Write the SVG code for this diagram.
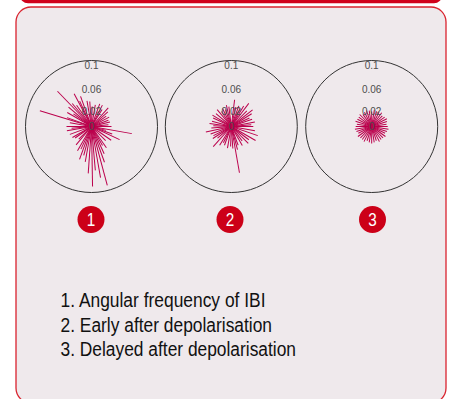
<svg xmlns="http://www.w3.org/2000/svg" width="452" height="399" viewBox="0 0 452 399">
<style>
.ring{fill:none;stroke:#333;stroke-width:1}
.ax{font-family:"Liberation Sans",Arial,sans-serif;font-size:10px;fill:#4d4d4d;text-anchor:middle}
.rays line{stroke:#bb004c;stroke-width:1}
.badge{fill:#cc0018}
.bnum{font-family:"Liberation Sans",Arial,sans-serif;font-size:18px;fill:#fff;text-anchor:middle}
.leg{font-family:"Liberation Sans",Arial,sans-serif;font-size:19.5px;fill:#111}
</style>
<rect x="0" y="0" width="452" height="399" fill="#fff"/>
<rect x="20" y="-12" width="422" height="15.3" rx="8" fill="#d0021b"/>
<rect x="16" y="7" width="430" height="396" rx="15" fill="#efe9ec" stroke="#d9232e" stroke-width="1.3"/>

<g id="plot1">
<circle class="ring" cx="91.5" cy="126.5" r="66"/>
<g class="rays" transform="translate(91.5,126.5)">
<line x2="20" transform="rotate(0)"/><line x2="41" transform="rotate(10)"/><line x2="15" transform="rotate(15)"/>
<line x2="22" transform="rotate(20)"/><line x2="31" transform="rotate(25)"/><line x2="24" transform="rotate(35)"/>
<line x2="20" transform="rotate(45)"/><line x2="26" transform="rotate(55)"/>
<line x2="22" transform="rotate(60)"/><line x2="30" transform="rotate(65)"/><line x2="38" transform="rotate(70)"/><line x2="61" transform="rotate(75)"/>
<line x2="52" transform="rotate(80)"/><line x2="44" transform="rotate(85)"/><line x2="60" transform="rotate(89)"/><line x2="47" transform="rotate(94)"/>
<line x2="36" transform="rotate(100)"/><line x2="30" transform="rotate(105)"/><line x2="35" transform="rotate(110)"/><line x2="25" transform="rotate(115)"/>
<line x2="28" transform="rotate(120)"/><line x2="24" transform="rotate(130)"/><line x2="18" transform="rotate(135)"/>
<line x2="20" transform="rotate(145)"/><line x2="22" transform="rotate(150)"/>
<line x2="23" transform="rotate(160)"/><line x2="25" transform="rotate(170)"/><line x2="20" transform="rotate(175)"/>
<line x2="25" transform="rotate(180)"/><line x2="22" transform="rotate(190)"/><line x2="54" transform="rotate(197)"/>
<line x2="26" transform="rotate(200)"/><line x2="28" transform="rotate(210)"/><line x2="22" transform="rotate(215)"/>
<line x2="30" transform="rotate(220)"/><line x2="49" transform="rotate(226)"/><line x2="30" transform="rotate(230)"/><line x2="26" transform="rotate(235)"/>
<line x2="37" transform="rotate(242)"/><line x2="28" transform="rotate(245)"/><line x2="32" transform="rotate(250)"/>
<line x2="26" transform="rotate(260)"/><line x2="25" transform="rotate(266)"/><line x2="20" transform="rotate(272)"/>
<line x2="22" transform="rotate(280)"/><line x2="24" transform="rotate(290)"/><line x2="24" transform="rotate(297)"/>
<line x2="20" transform="rotate(302)"/><line x2="25" transform="rotate(312)"/><line x2="22" transform="rotate(318)"/>
<line x2="18" transform="rotate(325)"/><line x2="20" transform="rotate(332)"/>
<line x2="18" transform="rotate(340)"/><line x2="19" transform="rotate(346)"/><line x2="17" transform="rotate(354)"/>
</g>
<text class="ax" x="91.5" y="69">0.1</text>
<text class="ax" x="91.5" y="92.5">0.06</text>
<text class="ax" x="91.5" y="115">0.02</text>
<text class="ax" x="91.5" y="130">0</text>
</g>

<g id="plot2">
<circle class="ring" cx="231.3" cy="126.5" r="66"/>
<g class="rays" transform="translate(231.3,126.5)">
<line x2="22" transform="rotate(0)"/><line x2="24" transform="rotate(10)"/>
<line x2="28" transform="rotate(19)"/><line x2="28" transform="rotate(30)"/><line x2="22" transform="rotate(37)"/>
<line x2="24" transform="rotate(45)"/><line x2="18" transform="rotate(53)"/>
<line x2="22" transform="rotate(60)"/><line x2="20" transform="rotate(70)"/><line x2="24" transform="rotate(75)"/>
<line x2="47" transform="rotate(80)"/><line x2="22" transform="rotate(86)"/><line x2="20" transform="rotate(92)"/>
<line x2="22" transform="rotate(100)"/><line x2="20" transform="rotate(110)"/><line x2="18" transform="rotate(116)"/>
<line x2="22" transform="rotate(122)"/><line x2="27" transform="rotate(132)"/>
<line x2="18" transform="rotate(140)"/><line x2="22" transform="rotate(147)"/><line x2="20" transform="rotate(153)"/>
<line x2="22" transform="rotate(160)"/><line x2="26" transform="rotate(168)"/><line x2="20" transform="rotate(176)"/>
<line x2="18" transform="rotate(182)"/><line x2="22" transform="rotate(188)"/><line x2="20" transform="rotate(195)"/>
<line x2="20" transform="rotate(205)"/><line x2="22" transform="rotate(211)"/>
<line x2="20" transform="rotate(220)"/><line x2="22" transform="rotate(230)"/><line x2="18" transform="rotate(237)"/>
<line x2="20" transform="rotate(244)"/><line x2="18" transform="rotate(251)"/><line x2="22" transform="rotate(257)"/>
<line x2="20" transform="rotate(263)"/><line x2="27" transform="rotate(277)"/>
<line x2="20" transform="rotate(283)"/><line x2="22" transform="rotate(290)"/><line x2="20" transform="rotate(296)"/>
<line x2="24" transform="rotate(301)"/><line x2="29" transform="rotate(307)"/><line x2="22" transform="rotate(315)"/>
<line x2="27" transform="rotate(322)"/><line x2="24" transform="rotate(328)"/><line x2="20" transform="rotate(335)"/>
<line x2="22" transform="rotate(341)"/><line x2="24" transform="rotate(349)"/><line x2="20" transform="rotate(355)"/>
</g>
<text class="ax" x="231.3" y="69">0.1</text>
<text class="ax" x="231.3" y="92.5">0.06</text>
<text class="ax" x="231.3" y="115">0.02</text>
<text class="ax" x="231.3" y="130">0</text>
</g>

<g id="plot3">
<circle class="ring" cx="371.7" cy="126.5" r="66"/>
<g class="rays" transform="translate(371.7,126.5)">
<line x2="16" transform="rotate(0)"/><line x2="17" transform="rotate(9)"/><line x2="16" transform="rotate(18)"/><line x2="15" transform="rotate(27)"/>
<line x2="17" transform="rotate(36)"/><line x2="16" transform="rotate(45)"/><line x2="16" transform="rotate(54)"/><line x2="17" transform="rotate(63)"/>
<line x2="15" transform="rotate(72)"/><line x2="16" transform="rotate(81)"/><line x2="17" transform="rotate(90)"/><line x2="16" transform="rotate(99)"/>
<line x2="15" transform="rotate(108)"/><line x2="17" transform="rotate(117)"/><line x2="16" transform="rotate(126)"/><line x2="16" transform="rotate(135)"/>
<line x2="17" transform="rotate(144)"/><line x2="15" transform="rotate(153)"/><line x2="16" transform="rotate(162)"/><line x2="17" transform="rotate(171)"/>
<line x2="16" transform="rotate(180)"/><line x2="15" transform="rotate(189)"/><line x2="17" transform="rotate(198)"/><line x2="16" transform="rotate(207)"/>
<line x2="16" transform="rotate(216)"/><line x2="17" transform="rotate(225)"/><line x2="15" transform="rotate(234)"/><line x2="16" transform="rotate(243)"/>
<line x2="17" transform="rotate(252)"/><line x2="16" transform="rotate(261)"/><line x2="15" transform="rotate(270)"/><line x2="17" transform="rotate(279)"/>
<line x2="16" transform="rotate(288)"/><line x2="16" transform="rotate(297)"/><line x2="17" transform="rotate(306)"/><line x2="15" transform="rotate(315)"/>
<line x2="16" transform="rotate(324)"/><line x2="17" transform="rotate(333)"/><line x2="16" transform="rotate(342)"/><line x2="15" transform="rotate(351)"/>
</g>
<text class="ax" x="371.7" y="69">0.1</text>
<text class="ax" x="371.7" y="92.5">0.06</text>
<text class="ax" x="371.7" y="115">0.02</text>
<text class="ax" x="371.7" y="130">0</text>
</g>

<g id="badge1"><circle class="badge" cx="91" cy="219.5" r="13.5"/><text class="bnum" x="91" y="226" transform="translate(91,0) scale(0.85,1) translate(-91,0)">1</text></g>
<g id="badge2"><circle class="badge" cx="230" cy="219.5" r="13.5"/><text class="bnum" x="230" y="226" transform="translate(230,0) scale(0.85,1) translate(-230,0)">2</text></g>
<g id="badge3"><circle class="badge" cx="372.5" cy="219.5" r="13.5"/><text class="bnum" x="372.5" y="226" transform="translate(372.5,0) scale(0.85,1) translate(-372.5,0)">3</text></g>

<g id="legend">
<text class="leg" x="60.5" y="307" textLength="205" lengthAdjust="spacingAndGlyphs">1. Angular frequency of IBI</text>
<text class="leg" x="60.5" y="331.5" textLength="211.5" lengthAdjust="spacingAndGlyphs">2. Early after depolarisation</text>
<text class="leg" x="60.5" y="356" textLength="235.5" lengthAdjust="spacingAndGlyphs">3. Delayed after depolarisation</text>
</g>
</svg>
